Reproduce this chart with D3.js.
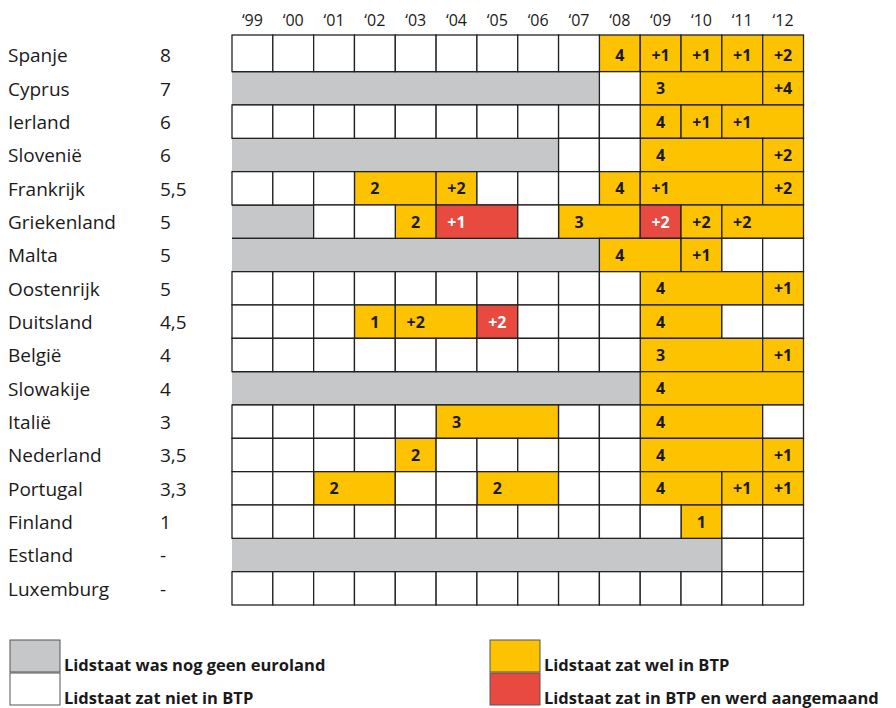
<!DOCTYPE html>
<html>
<head>
<meta charset="utf-8">
<script src="https://cdn.jsdelivr.net/npm/d3@7"></script>
<style>
  body { margin: 0; background: #fff; }
  text { font-family: "Open Sans", sans-serif; fill: #1a1a1a; }
</style>
</head>
<body>
<svg width="896" height="708"></svg>
<script>
var years = [1999, 2000, 2001, 2002, 2003, 2004, 2005, 2006, 2007, 2008, 2009, 2010, 2011, 2012];

var countries = ["Spanje", "Cyprus", "Ierland", "Slovenië", "Frankrijk", "Griekenland", "Malta",
  "Oostenrijk", "Duitsland", "België", "Slowakije", "Italië", "Nederland", "Portugal",
  "Finland", "Estland", "Luxemburg"];

var scores = ["8", "7", "6", "6", "5,5", "5", "5", "5", "4,5", "4", "4", "3", "3,5", "3,3", "1", "-", "-"];

// number of years (from 1999) the country was not yet in the euro
var notEuro = [0, 9, 0, 8, 0, 2, 9, 0, 0, 0, 10, 0, 0, 0, 0, 12, 0];

// BTP periods: [first year, number of years, label, warned]
var btp = [
  [[2008, 1, "4"], [2009, 1, "+1"], [2010, 1, "+1"], [2011, 1, "+1"], [2012, 1, "+2"]],
  [[2009, 3, "3"], [2012, 1, "+4"]],
  [[2009, 1, "4"], [2010, 1, "+1"], [2011, 2, "+1"]],
  [[2009, 3, "4"], [2012, 1, "+2"]],
  [[2002, 2, "2"], [2004, 1, "+2"], [2008, 1, "4"], [2009, 3, "+1"], [2012, 1, "+2"]],
  [[2003, 1, "2"], [2004, 2, "+1", true], [2007, 2, "3"], [2009, 1, "+2", true], [2010, 1, "+2"], [2011, 2, "+2"]],
  [[2008, 2, "4"], [2010, 1, "+1"]],
  [[2009, 3, "4"], [2012, 1, "+1"]],
  [[2002, 1, "1"], [2003, 2, "+2"], [2005, 1, "+2", true], [2009, 2, "4"]],
  [[2009, 3, "3"], [2012, 1, "+1"]],
  [[2009, 4, "4"]],
  [[2004, 3, "3"], [2009, 3, "4"]],
  [[2003, 1, "2"], [2009, 3, "4"], [2012, 1, "+1"]],
  [[2001, 2, "2"], [2005, 2, "2"], [2009, 2, "4"], [2011, 1, "+1"], [2012, 1, "+1"]],
  [[2010, 1, "1"]],
  [],
  []
];

var legendItems = [
  ["Lidstaat was nog geen euroland", "#c6c7c9"],
  ["Lidstaat zat niet in BTP", "#ffffff"],
  ["Lidstaat zat wel in BTP", "#fdc300"],
  ["Lidstaat zat in BTP en werd aangemaand", "#e84a40"]
];

var colors = { grey: "#c6c7c9", white: "#ffffff", yellow: "#fdc300", red: "#e84a40" };
var lineColor = "#222";

var svg = d3.select("svg");

var x = d3.scaleBand().domain(years).range([232, 803.5]);
var y = d3.scaleBand().domain(countries).range([38.3, 605]);
var bw = x.bandwidth(), bh = y.bandwidth();

// first row is drawn a bit taller, as in the original
function rowTop(c) { return c == countries[0] ? y(c) - 3.3 : y(c); }
function rowH(c) { return c == countries[0] ? bh + 3.3 : bh; }

// year labels
svg.append("g").selectAll("text")
  .data(years).enter().append("text")
  .attr("x", function(d) { return x(d) + bw / 2; })
  .attr("y", 26)
  .attr("text-anchor", "middle")
  .attr("font-size", 16)
  .text(function(d) { return "\u2018" + String(d).slice(2); });

// country names and scores
var labels = svg.append("g");
labels.selectAll(".name")
  .data(countries).enter().append("text")
  .attr("class", "name")
  .attr("x", 8)
  .attr("y", function(d) { return y(d) + bh / 2 + 7.5; })
  .attr("font-size", 19)
  .text(function(d) { return d; });
labels.selectAll(".score")
  .data(countries).enter().append("text")
  .attr("class", "score")
  .attr("x", 160)
  .attr("y", function(d) { return y(d) + bh / 2 + 7.5; })
  .attr("font-size", 19)
  .text(function(d, i) { return scores[i]; });

// build segments per row
var segments = [];
countries.forEach(function(c, i) {
  var covered = {};
  if (notEuro[i] > 0) {
    segments.push({ country: c, start: years[0], span: notEuro[i], type: "grey" });
    for (var k = 0; k < notEuro[i]; k++) covered[years[k]] = true;
  }
  btp[i].forEach(function(b) {
    segments.push({ country: c, start: b[0], span: b[1], type: b[3] ? "red" : "yellow", label: b[2] });
    for (var k = 0; k < b[1]; k++) covered[b[0] + k] = true;
  });
  years.forEach(function(yr) {
    if (!covered[yr]) segments.push({ country: c, start: yr, span: 1, type: "white" });
  });
});

var grid = svg.append("g");
var greys = segments.filter(function(d) { return d.type == "grey"; });
var others = segments.filter(function(d) { return d.type != "grey"; });

grid.selectAll(".grey")
  .data(greys).enter().append("rect")
  .attr("class", "grey")
  .attr("x", function(d) { return x(d.start); })
  .attr("y", function(d) { return rowTop(d.country); })
  .attr("width", function(d) { return bw * d.span; })
  .attr("height", function(d) { return rowH(d.country); })
  .attr("fill", colors.grey);

grid.selectAll(".greyline")
  .data(greys.concat(greys)).enter().append("line")
  .attr("x1", function(d) { return x(d.start); })
  .attr("x2", function(d) { return x(d.start) + bw * d.span; })
  .attr("y1", function(d, i) { return i < greys.length ? rowTop(d.country) : y(d.country) + bh; })
  .attr("y2", function(d, i) { return i < greys.length ? rowTop(d.country) : y(d.country) + bh; })
  .attr("stroke", lineColor)
  .attr("stroke-width", 1.3);

grid.selectAll(".cell")
  .data(others).enter().append("rect")
  .attr("class", "cell")
  .attr("x", function(d) { return x(d.start); })
  .attr("y", function(d) { return rowTop(d.country); })
  .attr("width", function(d) { return bw * d.span; })
  .attr("height", function(d) { return rowH(d.country); })
  .attr("fill", function(d) { return colors[d.type]; })
  .attr("stroke", lineColor)
  .attr("stroke-width", 1.3);

grid.selectAll(".lbl")
  .data(others.filter(function(d) { return d.label; })).enter().append("text")
  .attr("class", "lbl")
  .attr("x", function(d) { return x(d.start) + bw / 2; })
  .attr("y", function(d) { return y(d.country) + bh / 2 + 6; })
  .attr("text-anchor", "middle")
  .attr("font-size", 16)
  .attr("font-weight", "bold")
  .style("fill", function(d) { return d.type == "red" ? "#fff" : "#1a1a1a"; })
  .text(function(d) { return d.label; });

// legend
var legend = svg.append("g").selectAll("g")
  .data(legendItems).enter().append("g")
  .attr("transform", function(d, i) { return "translate(" + (i < 2 ? 10 : 490) + "," + (640 + (i % 2) * 33) + ")"; });
legend.append("rect")
  .attr("width", 50)
  .attr("height", 32)
  .attr("fill", function(d) { return d[1]; })
  .attr("stroke", "#555")
  .attr("stroke-width", 1);
legend.append("text")
  .attr("x", 54)
  .attr("y", 31)
  .attr("font-size", 16.5)
  .attr("font-weight", "bold")
  .text(function(d) { return d[0]; });
</script>
</body>
</html>
